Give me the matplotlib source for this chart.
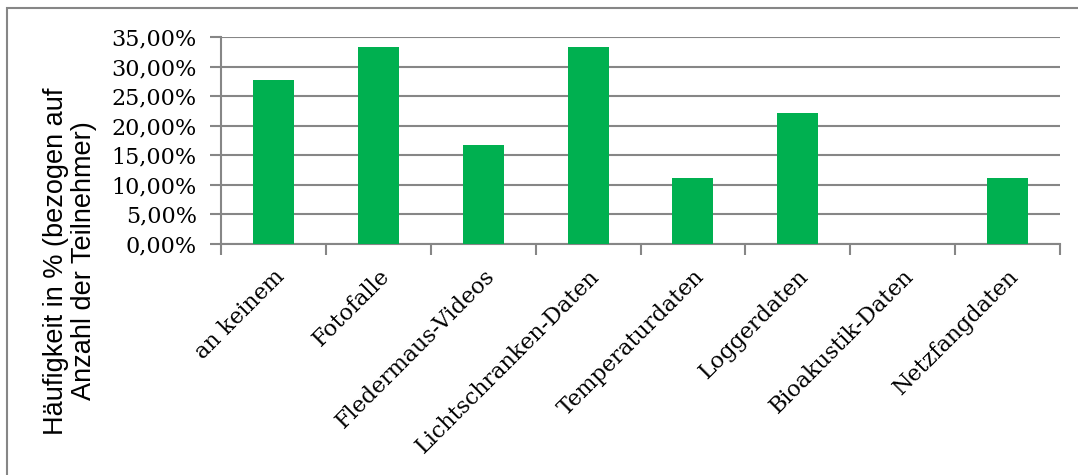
import numpy as np
import matplotlib
matplotlib.use("Agg")
import matplotlib.pyplot as plt
from matplotlib.patches import Rectangle
from matplotlib.ticker import FuncFormatter, MultipleLocator

# data (share of 18 participants)
categories = ["an keinem", "Fotofalle", "Fledermaus-Videos", "Lichtschranken-Daten",
              "Temperaturdaten", "Loggerdaten", "Bioakustik-Daten", "Netzfangdaten"]
shares = [0.2778, 0.3333, 0.1667, 0.3333, 0.1111, 0.2222, 0.0, 0.1111]

grid_col = "#868686"
bar_col = "#00B050"

fig = plt.figure(figsize=(10.78, 4.75), dpi=100)
ax = fig.add_axes([221 / 1078, 1 - 244 / 475, (1060 - 221) / 1078, (244 - 37) / 475])

x = np.arange(len(categories))
ax.bar(x, shares, width=0.39, color=bar_col, zorder=3)

ax.set_xlim(-0.5, len(categories) - 0.5)
ax.set_ylim(0, 0.35)
ax.yaxis.set_major_locator(MultipleLocator(0.05))
ax.yaxis.set_major_formatter(FuncFormatter(lambda v, p: f"{v * 100:.2f}%".replace(".", ",")))
ax.grid(axis="y", color=grid_col, linewidth=1.5, zorder=0)

for s in ["top", "right"]:
    ax.spines[s].set_visible(False)
ax.spines["left"].set_color(grid_col)
ax.spines["bottom"].set_color(grid_col)
ax.spines["left"].set_linewidth(1.5)
ax.spines["bottom"].set_linewidth(1.5)

ax.tick_params(axis="y", length=8, width=1.5, color=grid_col, pad=9.5, labelsize=16)
for lab in ax.get_yticklabels():
    lab.set_fontfamily("DejaVu Serif")

# category labels at centers, tick marks at boundaries
ax.set_xticks(x)
ax.set_xticklabels(categories, rotation=45, ha="right", va="top",
                   rotation_mode="anchor", fontsize=16, fontfamily="DejaVu Serif")
ax.tick_params(axis="x", which="major", length=0, pad=15.5)
ax.set_xticks(np.arange(-0.5, len(categories)), minor=True)
ax.tick_params(axis="x", which="minor", length=8, width=1.5, color=grid_col)

fig.text(70 / 1078, 1 - 261 / 475, "Häufigkeit in % (bezogen auf\nAnzahl der Teilnehmer)",
         rotation=90, ha="center", va="center", multialignment="center",
         linespacing=1.1, fontsize=19.5, fontfamily="Liberation Sans")

# chart frame
fig.patches.append(Rectangle((7 / 1078, -0.1), 1.1, 1 - 8 / 475 + 0.1,
                             transform=fig.transFigure, fill=False,
                             edgecolor=grid_col, linewidth=1.5))

fig.savefig("out.png", dpi=100)
